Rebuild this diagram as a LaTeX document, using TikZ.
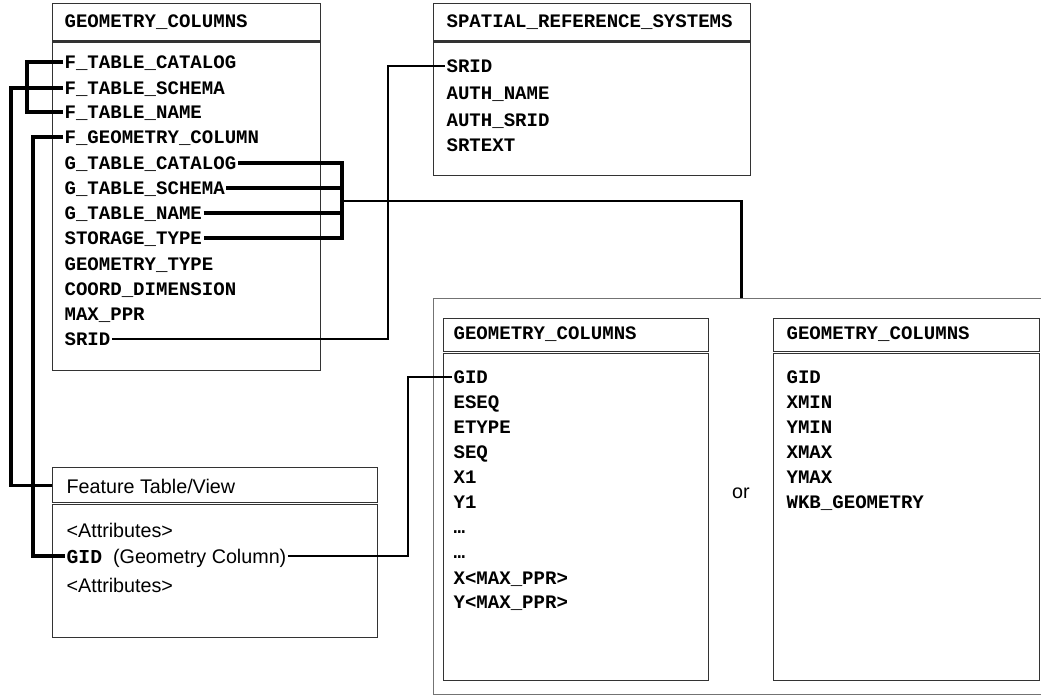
\documentclass[tikz,border=0pt]{standalone}
\usepackage{fontspec}
\setmainfont{Liberation Sans}
\newfontfamily\colfont{Liberation Mono}
\usetikzlibrary{positioning}

\begin{document}
\begin{tikzpicture}[x=0.75pt, y=-0.75pt,
    frame/.style={draw=black!80, line width=1pt, anchor=north west, inner sep=0pt},
    outer/.style={draw=black!55, line width=0.8pt, anchor=north west, inner sep=0pt},
    col/.style={anchor=west, inner sep=1pt, text height=9.4pt, text depth=0pt, font=\colfont\bfseries\fontsize{14.3}{17}\selectfont},
    txt/.style={anchor=west, inner sep=1pt, text height=10.6pt, text depth=0pt, font=\fontsize{14.8}{17}\selectfont},
    link/.style={line width=2.3pt},
    thin link/.style={line width=2.2pt}
]
\useasboundingbox (0,0) rectangle (1041,695);

% GEOMETRY_COLUMNS (metadata table)
\node[frame, minimum width=201pt, minimum height=27.75pt] (gcHead) at (52,3) {};
\node[frame, minimum width=201pt, minimum height=246pt] (gcBody) at (52,41.5) {};
\node[col] (gcTitle) at (63,21) {GEOMETRY\_COLUMNS};
\node[col] (fcat) at (63,62) {F\_TABLE\_CATALOG};
\node[col] (fschema) at (63,88) {F\_TABLE\_SCHEMA};
\node[col] (fname) at (63,112) {F\_TABLE\_NAME};
\node[col] (fgeom) at (63,137) {F\_GEOMETRY\_COLUMN};
\node[col] (gcat) at (63,163) {G\_TABLE\_CATALOG};
\node[col] (gschema) at (63,188) {G\_TABLE\_SCHEMA};
\node[col] (gname) at (63,213) {G\_TABLE\_NAME};
\node[col] (stype) at (63,238) {STORAGE\_TYPE};
\node[col] (gtype) at (63,264) {GEOMETRY\_TYPE};
\node[col] (cdim) at (63,289) {COORD\_DIMENSION};
\node[col] (maxppr) at (63,314) {MAX\_PPR};
\node[col] (srid) at (63,339) {SRID};

% SPATIAL_REFERENCE_SYSTEMS
\node[frame, minimum width=237.75pt, minimum height=27.75pt] (srsHead) at (433,3) {};
\node[frame, minimum width=237.75pt, minimum height=100pt] (srsBody) at (433,41.5) {};
\node[col] (srsTitle) at (445,21) {SPATIAL\_REFERENCE\_SYSTEMS};
\node[col] (srsSrid) at (445,66) {SRID};
\node[col] (authName) at (445,93) {AUTH\_NAME};
\node[col] (authSrid) at (445,120) {AUTH\_SRID};
\node[col] (srtext) at (445,145) {SRTEXT};

% feature table
\node[frame, minimum width=243.75pt, minimum height=26.25pt] (ftHead) at (52,467) {};
\node[frame, minimum width=243.75pt, minimum height=100pt] (ftBody) at (52,503.5) {};
\node[txt] (ftTitle) at (65,486) {Feature Table/View};
\node[txt] (attrA) at (65,530) {<Attributes>};
\node[txt] (ftGid) at (65,556) {{\colfont\bfseries GID}\ \ (Geometry Column)};
\node[txt] (attrB) at (65,585) {<Attributes>};

% geometry storage alternatives
\node[outer, minimum width=462pt, minimum height=297pt] (alt) at (433,298) {};

\node[frame, minimum width=198.75pt, minimum height=24.75pt] (gcAHead) at (443,318) {};
\node[frame, minimum width=198.75pt, minimum height=245.5pt] (gcABody) at (443,352.5) {};
\node[col] (gcATitle) at (452,333) {GEOMETRY\_COLUMNS};
\node[col] (gidL) at (452,377) {GID};
\node[col] (eseq) at (452,402) {ESEQ};
\node[col] (etype) at (452,427) {ETYPE};
\node[col] (seqL) at (452,452) {SEQ};
\node[col] (xone) at (452,477) {X1};
\node[col] (yone) at (452,502) {Y1};
\node[col] (dotsA) at (452,527) {…};
\node[col] (dotsB) at (452,552) {…};
\node[col] (xmaxppr) at (452,578) {X<MAX\_PPR>};
\node[col] (ymaxppr) at (452,602) {Y<MAX\_PPR>};

\node[txt, anchor=center] (orLbl) at (741,491) {or};

\node[frame, minimum width=199.5pt, minimum height=24.75pt] (gcBHead) at (773,318) {};
\node[frame, minimum width=199.5pt, minimum height=245.5pt] (gcBBody) at (773,352.5) {};
\node[col] (gcBTitle) at (785,333) {GEOMETRY\_COLUMNS};
\node[col] (gidR) at (785,377) {GID};
\node[col] (xminR) at (785,402) {XMIN};
\node[col] (yminR) at (785,427) {YMIN};
\node[col] (xmaxR) at (785,452) {XMAX};
\node[col] (ymaxR) at (785,477) {YMAX};
\node[col] (wkbR) at (785,502) {WKB\_GEOMETRY};

% bend points
\coordinate (bus) at (342,201);
\coordinate (sridBend) at (388,200);
\coordinate (gidBend) at (408,450);

% links
\draw[link] (fcat.west) -- ++(-36,0) |- (fname.west);
\draw[link] (fschema.west) -- ++(-52,0) |- (ftHead.west);
\draw[link] (fgeom.west) -- ++(-30,0) |- (ftGid.west);

\draw[link] (gcat.east) -| (bus) |- (stype.east);
\draw[link] (gschema.east) -- (gschema.east -| bus);
\draw[link] (gname.east) -- (gname.east -| bus);
\draw[thin link] (bus) -| (alt.north);

\draw[thin link] (srid.east) -| (sridBend) |- (srsSrid.west);
\draw[thin link] (ftGid.east) -| (gidBend) |- (gidL.west);
\end{tikzpicture}
\end{document}
